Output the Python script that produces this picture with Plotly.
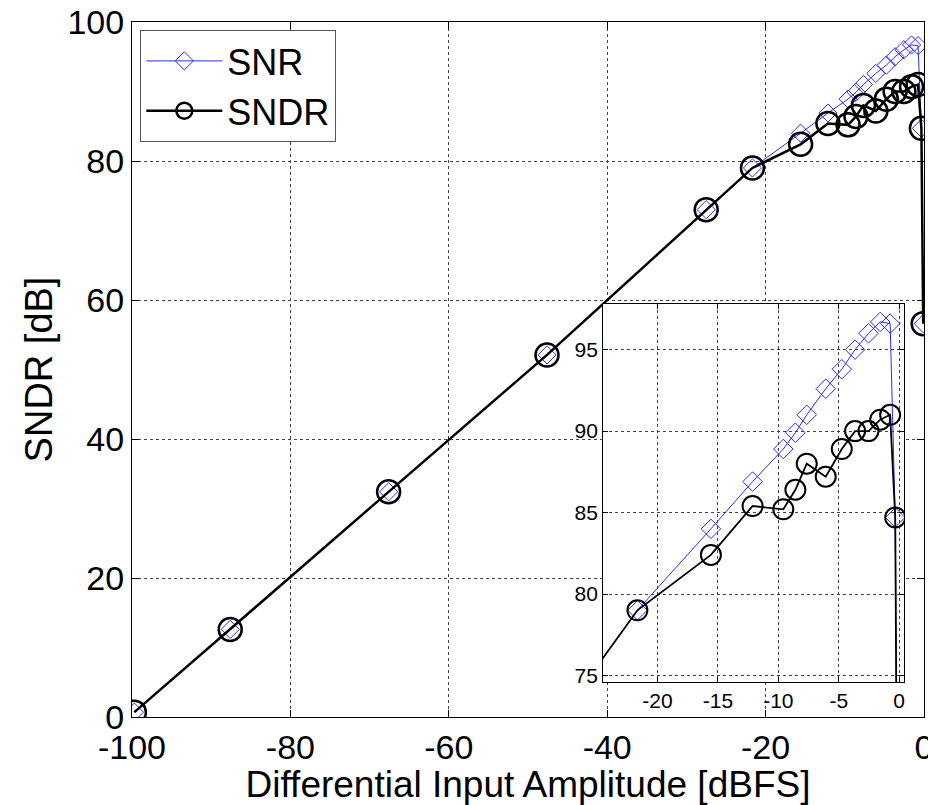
import plotly.graph_objects as go

# ---- data ----
amplitude_dbfs = [-99.7, -87.6, -67.6, -47.6, -27.5, -21.66, -15.58, -12.13, -9.59, -8.59,
                  -7.65, -6.08, -4.75, -3.65, -2.54, -1.57, -0.75, -0.33, -0.1]
sndr_db = [0.7, 12.6, 32.4, 52.1, 73.0, 79.0, 82.4, 85.4, 85.2, 86.4,
           88.0, 87.2, 88.9, 90.0, 90.0, 90.7, 91.0, 84.7, 56.6]
snr_db = [0.7, 12.6, 32.4, 52.1, 73.0, 79.0, 84.0, 86.9, 88.9, 89.9,
          91.0, 92.6, 93.8, 95.0, 96.0, 96.7, 96.6, 84.7, 56.6]

main_xticks = [-100, -80, -60, -40, -20, 0]
main_yticks = [0, 20, 40, 60, 80, 100]
inset_xticks = [-20, -15, -10, -5, 0]
inset_yticks = [75, 80, 85, 90, 95]

FONT = "Liberation Sans, Arial, sans-serif"
BLUE = "#2a2aff"

fig = go.Figure()

# main axes traces
fig.add_trace(go.Scatter(x=amplitude_dbfs, y=snr_db, name="SNR", mode="lines+markers",
                         line=dict(color=BLUE, width=1),
                         marker=dict(symbol="diamond-open", size=14, color=BLUE, line=dict(width=1)),
                         xaxis="x", yaxis="y"))
fig.add_trace(go.Scatter(x=amplitude_dbfs, y=sndr_db, name="SNDR", mode="lines+markers",
                         line=dict(color="black", width=2.5),
                         marker=dict(symbol="circle-open", size=23, color="black", line=dict(width=2.5)),
                         xaxis="x", yaxis="y"))
# inset traces
fig.add_trace(go.Scatter(x=amplitude_dbfs, y=snr_db, name="SNR", mode="lines+markers",
                         line=dict(color=BLUE, width=1), showlegend=False,
                         marker=dict(symbol="diamond-open", size=15, color=BLUE, line=dict(width=1)),
                         xaxis="x2", yaxis="y2"))
fig.add_trace(go.Scatter(x=amplitude_dbfs, y=sndr_db, name="SNDR", mode="lines+markers",
                         line=dict(color="black", width=1.8), showlegend=False,
                         marker=dict(symbol="circle-open", size=20, color="black", line=dict(width=2)),
                         xaxis="x2", yaxis="y2"))

grid = dict(showgrid=True, gridcolor="#444", gridwidth=1, griddash="3px,3px",
            showline=True, linecolor="black", linewidth=1, mirror="allticks",
            ticks="inside", tickcolor="black", zeroline=False, automargin=False,
            ticklabeloverflow="allow")

fig.update_layout(
    width=928, height=805,
    margin=dict(l=132, r=4, t=22, b=88),
    paper_bgcolor="white", plot_bgcolor="white",
    font=dict(family=FONT, color="black"),
    showlegend=True,
    legend=dict(x=0.0105, y=0.9885, xanchor="left", yanchor="top",
                bgcolor="white", bordercolor="#555", borderwidth=1,
                font=dict(size=36, family=FONT), itemwidth=76, tracegroupgap=0),
    xaxis=dict(range=[-100, 0], domain=[0, 1], tickvals=main_xticks,
               ticktext=[str(v) for v in main_xticks], ticklen=7,
               tickfont=dict(size=34), **grid,
               title=dict(text="Differential Input Amplitude [dBFS]", font=dict(size=37), standoff=1)),
    yaxis=dict(range=[0, 100], domain=[0, 1], tickvals=main_yticks,
               ticktext=[str(v) for v in main_yticks], ticklen=7,
               tickfont=dict(size=34), **grid,
               title=dict(text="SNDR [dB]", font=dict(size=38), standoff=3)),
    xaxis2=dict(range=[-24.5, 0.4], domain=[0.5948, 0.9748], anchor="y2",
                tickvals=inset_xticks, ticktext=[str(v) for v in inset_xticks],
                ticklen=5, tickfont=dict(size=21), **grid),
    yaxis2=dict(range=[74.6, 97.8], domain=[0.0504, 0.5942], anchor="x2",
                tickvals=inset_yticks, ticktext=[str(v) for v in inset_yticks],
                ticklen=5, tickfont=dict(size=21), **grid),
)

fig.write_html("out.html", config={"displayModeBar": False},
               post_script="document.body.style.margin='0';")
